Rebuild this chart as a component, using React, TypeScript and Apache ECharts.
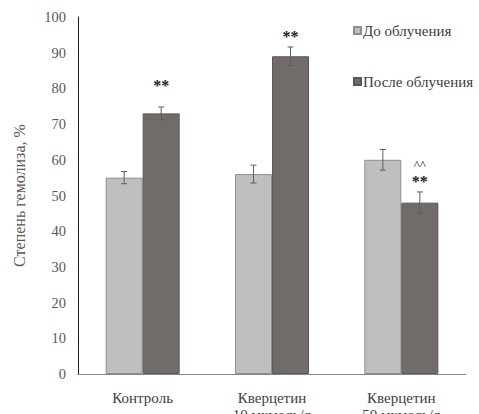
import React, { useEffect, useRef } from "react";
import * as echarts from "echarts";

const categories = ["Контроль", "Кверцетин\n10 мкмоль/л", "Кверцетин\n50 мкмоль/л"];
const seriesNames = ["До облучения", "После облучения"];
const beforeValues = [55, 56, 60];
const beforeErrors = [1.7, 2.5, 2.9];
const afterValues = [73, 89, 48];
const afterErrors = [1.8, 2.6, 3.0];
// significance marks: [category index, series index, level, text]
const marks: [number, number, number, string][] = [
  [0, 1, 80.7, "**"],
  [1, 1, 94.4, "**"],
  [2, 1, 58.7, "^^"],
  [2, 1, 53.8, "**"],
];

const FONT = "Liberation Serif";
const BAR_W = 37;

export default function App() {
  const ref = useRef<HTMLDivElement>(null);
  useEffect(() => {
    if (!ref.current) return;
    const chart = echarts.init(ref.current, null, { renderer: "svg" });

    const errData: number[][] = [];
    beforeValues.forEach((v, i) => errData.push([i, v, beforeErrors[i], 0]));
    afterValues.forEach((v, i) => errData.push([i, v, afterErrors[i], 1]));

    chart.setOption({
      animation: false,
      grid: { left: 78, right: 13, top: 17, bottom: 40, containLabel: false, outerBoundsMode: "none" },
      legend: {
        orient: "vertical",
        left: 348,
        top: 18,
        padding: [5, 0, 5, 5],
        itemGap: 36,
        itemWidth: 7,
        itemHeight: 7,
        icon: "rect",
        textStyle: {
          fontFamily: FONT,
          fontSize: 15,
          color: "#404040",
          padding: [0, 0, 0, -3],
        },
        data: seriesNames,
      },
      xAxis: {
        type: "category",
        data: categories,
        axisLine: { lineStyle: { color: "#868686", width: 1 } },
        axisTick: { show: false },
        axisLabel: { fontFamily: FONT, fontSize: 15, color: "#404040", margin: 15, lineHeight: 17 },
      },
      yAxis: {
        type: "value",
        min: 0,
        max: 100,
        interval: 10,
        name: "Степень гемолиза, %",
        nameLocation: "middle",
        nameGap: 51,
        nameTextStyle: { fontFamily: FONT, fontSize: 16, color: "#595959" },
        axisLine: { show: true, lineStyle: { color: "#1a1a1a", width: 1 } },
        axisTick: { show: false },
        splitLine: { show: false },
        axisLabel: { fontFamily: FONT, fontSize: 14.5, color: "#595959", margin: 12 },
      },
      series: [
        {
          name: seriesNames[0],
          type: "bar",
          data: beforeValues,
          barWidth: BAR_W,
          barGap: "0%",
          itemStyle: { color: "#bfbfbf", borderColor: "#8f8f8f", borderWidth: 1 },
        },
        {
          name: seriesNames[1],
          type: "bar",
          data: afterValues,
          barWidth: BAR_W,
          barGap: "0%",
          itemStyle: { color: "#716c6a", borderColor: "#5a5756", borderWidth: 1 },
        },
        {
          type: "custom",
          silent: true,
          z: 5,
          data: errData,
          renderItem: (params: any, api: any) => {
            const idx = api.value(0);
            const v = api.value(1);
            const e = api.value(2);
            const s = api.value(3);
            const base = api.coord([idx, v]);
            const off = (s === 0 ? -1 : 1) * (BAR_W / 2);
            const x = base[0] + off;
            const yTop = api.coord([idx, v + e])[1];
            const yBot = api.coord([idx, v - e])[1];
            const style = { stroke: "#5f5f5f", lineWidth: 1 };
            return {
              type: "group",
              children: [
                { type: "line", shape: { x1: x, y1: yTop, x2: x, y2: yBot }, style },
                { type: "line", shape: { x1: x - 3, y1: yTop, x2: x + 3, y2: yTop }, style },
                { type: "line", shape: { x1: x - 3, y1: yBot, x2: x + 3, y2: yBot }, style },
              ],
            };
          },
        },
        {
          type: "custom",
          silent: true,
          z: 6,
          data: marks.map((m) => [m[0], m[2], m[1], m[3]]),
          renderItem: (params: any, api: any) => {
            const m = marks[params.dataIndex];
            const p = api.coord([m[0], m[2]]);
            const off = (m[1] === 0 ? -1 : 1) * (BAR_W / 2);
            return {
              type: "text",
              x: p[0] + off,
              y: p[1],
              style: {
                text: m[3],
                fontFamily: FONT,
                fontSize: m[3] === "^^" ? 13 : 16,
                fontWeight: m[3] === "^^" ? "normal" : "bold",
                fill: "#262626",
                align: "center",
                verticalAlign: "middle",
              },
            };
          },
        },
      ],
    });
    return () => chart.dispose();
  }, []);
  return <div ref={ref} style={{ position: "absolute", left: 0, top: 0, width: 479, height: 414 }} />;
}
